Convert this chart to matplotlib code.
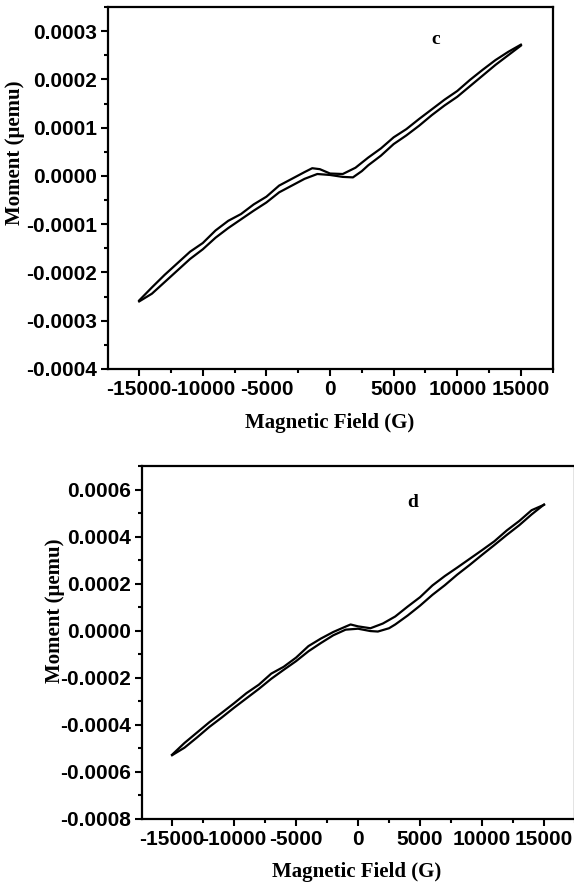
import numpy as np
import matplotlib.pyplot as plt
from matplotlib.ticker import MultipleLocator, FormatStrFormatter

# sample c: field sweep down (15 kG -> -15 kG) then back up
c_field_down = [15000, 14000, 13000, 12000, 11000, 10000, 9000, 8000, 7000, 6000,
                5000, 4000, 3000, 2000, 1000, 0, -800, -1400, -2000, -3000,
                -4000, -5000, -6000, -7000, -8000, -9000, -10000, -11000,
                -12000, -13000, -14000, -15000]
c_moment_down = [0.000272, 0.000257, 0.000240, 0.000220, 0.000199, 0.000176,
                 0.000158, 0.000138, 0.000118, 0.000097, 0.000080, 0.000057,
                 0.000038, 0.000017, 0.000004, 0.000005, 0.000014, 0.000016,
                 0.000008, -0.000006, -0.000020, -0.000043, -0.000059,
                 -0.000079, -0.000093, -0.000113, -0.000139, -0.000157,
                 -0.000181, -0.000205, -0.000231, -0.000258]
c_field_up = [-15000, -14000, -13000, -12000, -11000, -10000, -9000, -8000,
              -7000, -6000, -5000, -4000, -3000, -2000, -1000, 0, 1000, 1800,
              2500, 3000, 4000, 5000, 6000, 7000, 8000, 9000, 10000, 11000,
              12000, 13000, 14000, 15000]
c_moment_up = [-0.000260, -0.000244, -0.000220, -0.000196, -0.000172,
               -0.000152, -0.000128, -0.000108, -0.000090, -0.000072,
               -0.000055, -0.000034, -0.000020, -0.000006, 0.000004,
               0.000002, -0.000002, -0.000003, 0.000010, 0.000022,
               0.000042, 0.000066, 0.000084, 0.000104, 0.000126, 0.000146,
               0.000164, 0.000186, 0.000208, 0.000230, 0.000250, 0.000270]

# sample d
d_field_down = [15000, 14000, 13000, 12000, 11000, 10000, 9000, 8000, 7000, 6000,
                5000, 4000, 3000, 2000, 1000, 0, -600, -1000, -2000, -3000,
                -4000, -5000, -6000, -7000, -8000, -9000, -10000, -11000,
                -12000, -13000, -14000, -15000]
d_moment_down = [0.000535, 0.000512, 0.000466, 0.000426, 0.000380, 0.000342,
                 0.000305, 0.000268, 0.000232, 0.000192, 0.000142, 0.000102,
                 0.000060, 0.000030, 0.000010, 0.000018, 0.000026, 0.000017,
                 -0.000006, -0.000034, -0.000066, -0.000115, -0.000154,
                 -0.000183, -0.000230, -0.000266, -0.000309, -0.000350,
                 -0.000390, -0.000434, -0.000478, -0.000528]
d_field_up = [-15000, -14000, -13000, -12000, -11000, -10000, -9000, -8000,
              -7000, -6000, -5000, -4000, -3000, -2000, -1000, 0, 1000, 1600,
              2500, 3000, 4000, 5000, 6000, 7000, 8000, 9000, 10000, 11000,
              12000, 13000, 14000, 15000]
d_moment_up = [-0.000530, -0.000498, -0.000455, -0.000410, -0.000370,
               -0.000328, -0.000288, -0.000248, -0.000205, -0.000167,
               -0.000130, -0.000088, -0.000053, -0.000020, 0.000004,
               0.000008, -0.000002, -0.000004, 0.000010, 0.000026, 0.000064,
               0.000106, 0.000152, 0.000193, 0.000238, 0.000279, 0.000322,
               0.000364, 0.000407, 0.000448, 0.000494, 0.000536]

tick_font = {'family': 'Liberation Sans', 'weight': 'bold', 'size': 15}
label_font = {'family': 'Liberation Serif', 'weight': 'bold', 'size': 15}
letter_font = {'family': 'Liberation Serif', 'weight': 'bold', 'size': 14}

fig = plt.figure(figsize=(5.74, 8.83), dpi=100)


def style_axes(ax, ylim, ymajor, yminor, fmt):
    ax.set_xlim(-17450, 17500)
    ax.set_ylim(*ylim)
    ax.xaxis.set_major_locator(MultipleLocator(5000))
    ax.xaxis.set_minor_locator(MultipleLocator(2500))
    ax.yaxis.set_major_locator(MultipleLocator(ymajor))
    ax.yaxis.set_minor_locator(MultipleLocator(yminor))
    ax.yaxis.set_major_formatter(FormatStrFormatter(fmt))
    ax.xaxis.set_major_formatter(FormatStrFormatter('%d'))
    ax.tick_params(which='major', direction='out', length=5, width=1.5)
    ax.tick_params(which='minor', direction='out', length=3, width=1.5)
    ax.tick_params(axis='x', which='major', pad=3)
    ax.tick_params(axis='y', which='major', pad=3)
    ax.tick_params(top=False, right=False, which='both')
    for sp in ax.spines.values():
        sp.set_linewidth(1.6)
    for lab in ax.get_xticklabels() + ax.get_yticklabels():
        lab.set_fontproperties(tick_font)


# panel c
ax1 = fig.add_axes([108 / 574, 1 - 369 / 883, 444.7 / 574, 362 / 883])
ax1.plot(c_field_down, c_moment_down, color='black', lw=1.6)
ax1.plot(c_field_up, c_moment_up, color='black', lw=1.6)
style_axes(ax1, (-0.0004, 0.00035), 0.0001, 0.00005, '%.4f')
ax1.text(8300, 0.000282, 'c', ha='center', va='center', fontdict=letter_font)
fig.text(330 / 574, 1 - 423 / 883, 'Magnetic Field (G)', ha='center', va='center', fontdict=label_font)
fig.text(15 / 574, 1 - 153 / 883, 'Moment (\u03bcemu)', ha='center', va='center',
         rotation=90, fontdict=label_font)

# panel d
ax2 = fig.add_axes([141.7 / 574, 1 - 818.7 / 883, 433.3 / 574, 352.7 / 883])
ax2.plot(d_field_down, d_moment_down, color='black', lw=1.6)
ax2.plot(d_field_up, d_moment_up, color='black', lw=1.6)
style_axes(ax2, (-0.0008, 0.0007), 0.0002, 0.0001, '%.4f')
ax2.text(4400, 0.000543, 'd', ha='center', va='center', fontdict=letter_font)
fig.text(357 / 574, 1 - 872 / 883, 'Magnetic Field (G)', ha='center', va='center', fontdict=label_font)
fig.text(55 / 574, 1 - 611 / 883, 'Moment (\u03bcemu)', ha='center', va='center',
         rotation=90, fontdict=label_font)

fig.savefig('out.png', dpi=100)
